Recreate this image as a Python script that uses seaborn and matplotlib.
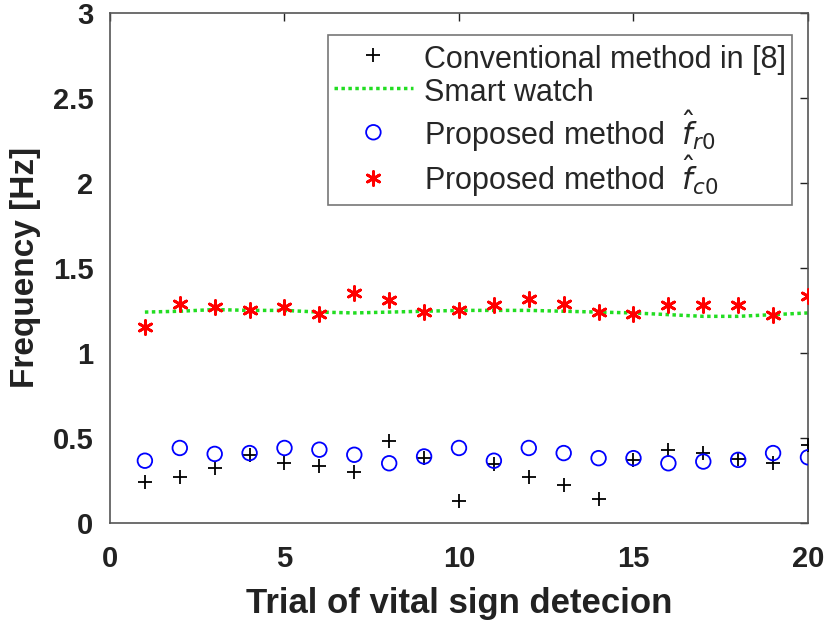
import numpy as np
import pandas as pd
import matplotlib
matplotlib.use('Agg')
import matplotlib.pyplot as plt
import seaborn as sns

# trials
trial = list(range(1, 21))
# conventional method in [8]
conventional = [0.24, 0.27, 0.32, 0.40, 0.35, 0.335, 0.30, 0.48, 0.38, 0.13,
                0.345, 0.27, 0.22, 0.14, 0.37, 0.43, 0.41, 0.375, 0.35, 0.46]
# smart watch reference
smart_watch = [1.24, 1.245, 1.255, 1.25, 1.25, 1.24, 1.235, 1.24, 1.245, 1.25,
               1.25, 1.25, 1.245, 1.24, 1.235, 1.225, 1.215, 1.215, 1.225, 1.235]
# proposed method f_r0
proposed_r0 = [0.365, 0.44, 0.405, 0.41, 0.44, 0.43, 0.40, 0.35, 0.39, 0.44,
               0.365, 0.44, 0.41, 0.38, 0.38, 0.35, 0.36, 0.37, 0.41, 0.385]
# proposed method f_c0
proposed_c0 = [1.15, 1.29, 1.27, 1.25, 1.27, 1.23, 1.35, 1.31, 1.24, 1.25,
               1.28, 1.32, 1.29, 1.24, 1.23, 1.28, 1.28, 1.28, 1.22, 1.335]

sns.set_style('white')
plt.rcParams['font.family'] = ['Liberation Sans', 'DejaVu Sans']
plt.rcParams['mathtext.fontset'] = 'dejavusans'

fig = plt.figure(figsize=(8.27, 6.26), dpi=100)
ax = fig.add_axes([0.133, 0.165, 0.844, 0.814])

df = pd.DataFrame({'trial': trial, 'conv': conventional, 'watch': smart_watch,
                   'r0': proposed_r0, 'c0': proposed_c0})

sns.scatterplot(data=df, x='trial', y='conv', marker='+', color='black', s=110,
                linewidth=1.3, ax=ax, label='Conventional method in [8]', zorder=3)
sns.lineplot(data=df, x='trial', y='watch', color='#22dd22', linestyle=(0, (1, 1)),
             linewidth=2.5, ax=ax, label='Smart watch')
sns.scatterplot(data=df, x='trial', y='r0', marker='o', facecolor='none',
                edgecolor='blue', s=110, linewidth=1.3, ax=ax,
                label=r'Proposed method  $\hat{f}_{r0}$', zorder=3)
sns.scatterplot(data=df, x='trial', y='c0', marker=(6, 2, 0), color='red', s=100,
                linewidth=2.0, ax=ax, edgecolor='red',
                label=r'Proposed method  $\hat{f}_{c0}$', zorder=3)

ax.set_xlim(0, 20)
ax.set_ylim(0, 3)
ax.set_xticks([0, 5, 10, 15, 20])
ax.set_yticks([0, 0.5, 1, 1.5, 2, 2.5, 3])
ax.set_yticklabels(['0', '0.5', '1', '1.5', '2', '2.5', '3'])
ax.tick_params(direction='in', length=6, width=1, top=True, right=True,
               labelsize=21, pad=12, colors='#222222')
ax.tick_params(axis='x', pad=16)
for lab in ax.get_xticklabels() + ax.get_yticklabels():
    lab.set_fontweight('bold')
for sp in ax.spines.values():
    sp.set_color('#555555')
    sp.set_linewidth(1.2)

ax.set_xlabel('Trial of vital sign detecion', fontsize=25, fontweight='bold',
              color='#222222', labelpad=10)
ax.set_ylabel('Frequency [Hz]', fontsize=24, fontweight='bold',
              color='#222222', labelpad=8)

leg = ax.legend(loc='upper right', fontsize=22, frameon=True, fancybox=False,
                handlelength=2.6, handleheight=1.3, handletextpad=0.35,
                borderpad=0.2, labelspacing=0.0, borderaxespad=0,
                bbox_to_anchor=(0.977, 0.958))
leg.get_frame().set_edgecolor('#555555')
leg.get_frame().set_linewidth(1.2)

fig.savefig('out.png', dpi=100)
